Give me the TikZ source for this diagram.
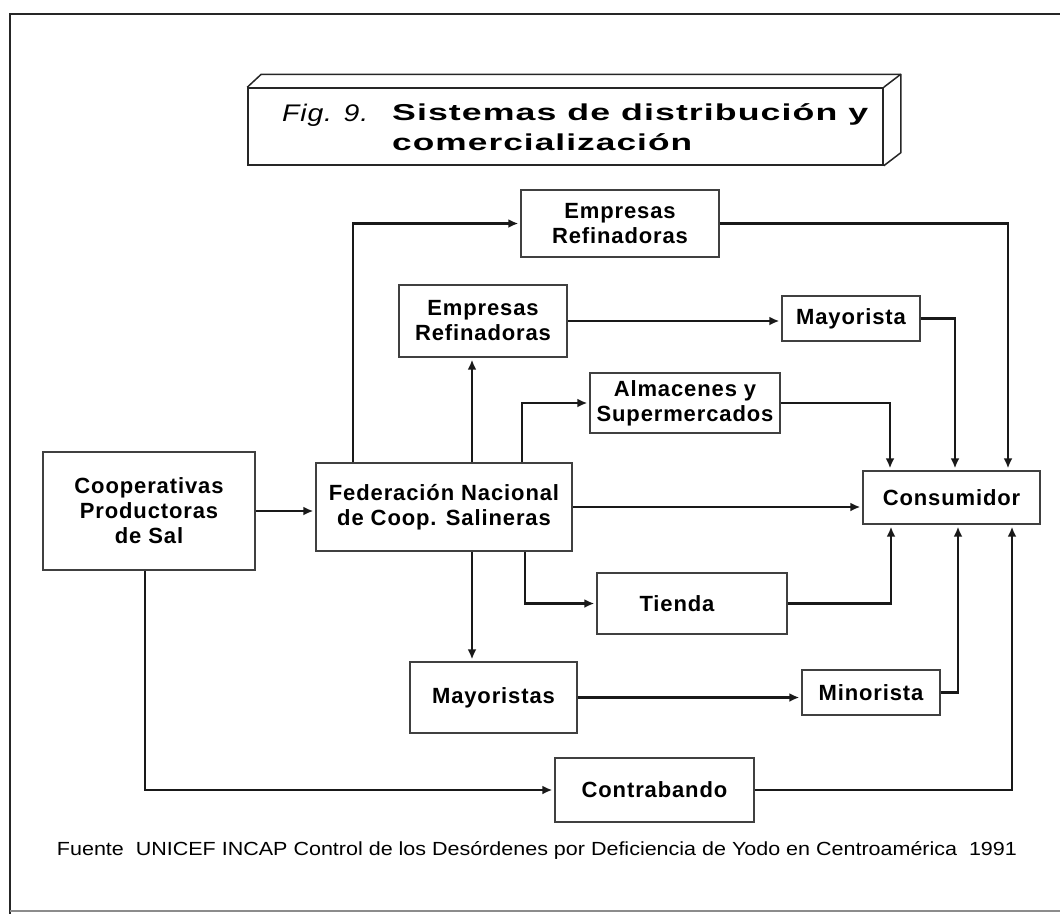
\documentclass[tikz,border=0pt]{standalone}
\usepackage{fontspec}
\usepackage{graphicx}
\setmainfont{Liberation Sans}
\newfontfamily\boxfont{Liberation Sans}[LetterSpace=4]
\newfontfamily\headfont{Liberation Sans}[LetterSpace=3]
\usetikzlibrary{arrows.meta,calc}

\tikzset{
  flowbox/.style={draw=black!75, line width=1.4pt, fill=white, inner sep=0pt,
    align=center, font=\boxfont\bfseries\fontsize{22}{25}\selectfont},
  conn/.style={line width=2.1pt, draw=black!90, shorten >=2pt,
    -{Latex[length=10pt,width=9pt]}},
  framerule/.style={line width=2.2pt, draw=black!85},
  titleedge/.style={line width=1.5pt, draw=black!85, line join=round},
  plain/.style={inner sep=0pt},
}

\begin{document}
\begin{tikzpicture}[x=1pt, y=-1pt]
\useasboundingbox (0,0) rectangle (1060,914);

% page frame
\draw[framerule] (1060,14) -- (10,14) -- (10,914);
\draw[line width=1.2pt, draw=black!45] (10,911) -- (1060,911);

% title plate (front face plus top and right faces)
\node[plain, draw=black!85, line width=1.5pt, minimum width=635, minimum height=77]
  (title) at (565.5,126.5) {};
\draw[titleedge] (title.north west) -- ++(14,-13) coordinate (tbl)
  -- ($(title.north east)+(17,-13)$) coordinate (tbr)
  -- ($(title.south east)+(17,-13)$) -- (title.south east);
\draw[titleedge] (title.north east) -- (tbr);
\node[plain, anchor=base west] (fignum) at (282,121)
  {\resizebox{86pt}{\height}{\headfont\itshape\fontsize{24}{26}\selectfont Fig. 9.}};
\node[plain, anchor=base west] (tline1) at (392,120)
  {\resizebox{476pt}{\height}{\headfont\bfseries\fontsize{23}{26}\selectfont Sistemas de distribución y}};
\node[plain, anchor=base west] (tline2) at (392,150)
  {\resizebox{300pt}{\height}{\headfont\bfseries\fontsize{23}{26}\selectfont comercialización}};

% boxes
\node[flowbox, minimum width=198, minimum height=67] (emp1) at (620,223.5) {Empresas\\Refinadoras};
\node[flowbox, minimum width=168, minimum height=72] (emp2) at (483,321) {Empresas\\Refinadoras};
\node[flowbox, minimum width=138, minimum height=45] (may) at (851,318.5) {Mayorista};
\node[flowbox, minimum width=190, minimum height=60] (alm) at (685,403) {Almacenes y\\Supermercados};
\node[flowbox, minimum width=212, minimum height=118] (coop) at (149,511) {Cooperativas\\Productoras\\de Sal};
\node[flowbox, minimum width=256, minimum height=88] (fed) at (444,507) {Federación Nacional\\de Coop. Salineras};
\node[flowbox, minimum width=177, minimum height=53] (cons) at (951.5,497.5) {Consumidor};
\node[flowbox, minimum width=190, minimum height=61] (tienda) at (692,603.5) {Tienda\hspace*{30pt}};
\node[flowbox, minimum width=167, minimum height=71] (mays) at (493.5,697.5) {Mayoristas};
\node[flowbox, minimum width=138, minimum height=45] (mino) at (871,692.5) {Minorista};
\node[flowbox, minimum width=199, minimum height=64] (contra) at (654.5,790) {Contrabando};

% connectors
\draw[conn] (coop.east) -- (coop.east -| fed.west);
\draw[conn] (353,0 |- fed.north) |- (emp1.west);
\draw[conn] (emp1.east) -| (1008,0 |- cons.north);
\draw[conn] (472,0 |- fed.north) -- (472,0 |- emp2.south);
\draw[conn] (emp2.east) -- (emp2.east -| may.west);
\draw[conn] (may.east) -| (955,0 |- cons.north);
\draw[conn] (522,0 |- fed.north) |- (alm.west);
\draw[conn] (alm.east) -| (890,0 |- cons.north);
\draw[conn] (fed.east) -- (fed.east -| cons.west);
\draw[conn] (525,0 |- fed.south) |- (tienda.west);
\draw[conn] (tienda.east) -| (891,0 |- cons.south);
\draw[conn] (472,0 |- fed.south) -- (472,0 |- mays.north);
\draw[conn] (mays.east) -- (mays.east -| mino.west);
\draw[conn] (mino.east) -| (958,0 |- cons.south);
\draw[conn] (145,0 |- coop.south) |- (contra.west);
\draw[conn] (contra.east) -| (1012,0 |- cons.south);

% source line
\node[plain, anchor=base] (source) at (537,855)
  {\resizebox{960pt}{\height}{\fontsize{19}{21}\selectfont Fuente\ \ UNICEF INCAP Control de los Desórdenes por Deficiencia de Yodo en Centroamérica\ \ 1991}};
\end{tikzpicture}
\end{document}
